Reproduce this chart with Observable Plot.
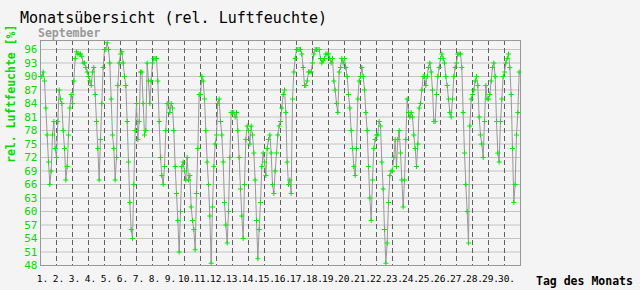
<!DOCTYPE html>
<html>
<head>
<meta charset="utf-8">
<script src="https://cdn.jsdelivr.net/npm/d3@7"></script>
<script src="https://cdn.jsdelivr.net/npm/@observablehq/plot@0.6"></script>
<style>
  html, body { margin: 0; padding: 0; background: #f4f4f4; }
  #chart { width: 640px; height: 290px; }
</style>
</head>
<body>
<div id="chart"></div>
<script>
// Sample hours within each day
const hours = [0, 2, 4, 6, 8, 10, 12, 14, 16, 18, 20, 22];
// Relative humidity [%], one row per day of September
const humidity = [
  [90, 90, 91, 89, 83, 77, 71, 66, 69, 77, 80, 74],      // 1
  [72, 80, 87, 85, 84, 78, 74, 67, 70, 77, 83, 86],      // 2
  [84, 89, 94, 95.5, 95, 95, 95, 94.5, 93, 93, 92, 91],  // 3
  [90, 89, 88, 91, 92, 86, 80, 74, 67, 76, 84, 92],      // 4
  [96, 96, 97.5, 96, 93, 85, 77, 74, 67, 72, 88, 93],    // 5
  [95, 95.5, 93, 90, 88, 80, 71, 62, 56, 54, 66, 78],    // 6
  [84, 76, 80, 91, 91, 84, 77, 78, 93, 89, 84, 89],      // 7
  [93, 94, 94, 94, 89, 80, 72, 68, 66, 70, 78, 84],      // 8
  [84, 82, 84, 83, 78, 70, 64, 58, 51, 60, 70, 71],      // 9
  [69, 67, 72, 67, 68, 61, 58, 56, 51.5, 64, 74, 86],    // 10
  [86, 90, 89, 85, 78, 71, 66, 59, 48.5, 61, 70, 75],    // 11
  [77, 84, 85, 80, 77, 71, 62, 57, 53, 60, 72, 82],      // 12
  [82, 82, 81, 82, 78, 72, 65, 59, 54, 66, 76, 79],      // 13
  [78, 75, 79, 77, 73, 67, 58, 49.5, 56, 62, 70, 73],    // 14
  [71, 68, 74, 76, 77, 73, 66, 64, 69, 73, 77, 79],      // 15
  [80, 83, 86, 87, 82, 71, 66, 67, 64, 85, 91, 94],      // 16
  [96, 96, 96, 96, 95, 92, 88, 88, 89, 91, 91, 91],      // 17
  [93, 95, 96, 96, 96, 96, 94, 93, 93.5, 94, 95, 95],    // 18
  [95, 94, 93, 94, 89, 87, 84, 82, 91, 92, 94, 93],      // 19
  [94, 92, 90, 86, 83, 78, 74, 70, 68, 74, 85, 89],      // 20
  [90, 92, 90, 87, 82, 78, 70, 63, 58, 67, 74, 76],      // 21
  [77, 77, 80, 79, 71, 65, 56, 48.5, 53, 62, 68, 69],    // 22
  [69, 72, 76, 70, 76, 78, 73, 67, 61, 67, 76, 85],      // 23
  [82, 81, 82, 81, 77, 74, 70, 75, 83, 84, 87, 90],      // 24
  [90, 88, 90, 92, 93, 91, 87, 80, 80, 86, 90, 92],      // 25
  [94, 95, 94, 93, 90, 88, 85, 82, 81, 85, 90, 92],      // 26
  [93, 95, 95, 95, 92, 82, 73, 66, 60, 53, 79, 85],      // 27
  [86, 87, 89, 90, 88, 81, 77, 75, 72, 80, 88, 85],      // 28
  [85, 86, 89, 92, 93, 90, 80, 73, 71, 80, 85, 90],      // 29
  [91, 93, 94, 95, 92, 86, 74, 62, 66, 77, 82, 91]       // 30
];
const dayLabels = ["1.","2.","3.","4.","5.","6.","7.","8.","9.","10.",
  "11.","12.","13.","14.","15.","16.","17.","18.","19.","20.",
  "21.","22.","23.","24.","25.","26.","27.","28.","29.","30."];
const yTicks = [48, 51, 54, 57, 60, 63, 66, 69, 72, 75, 78, 81, 84, 87, 90, 93, 96];

const rows = humidity.flatMap((vals, i) => vals.map((v, j) => ({t: i + hours[j] / 24, v})));
const dayIdx = dayLabels.map((_, i) => i);

const plusSymbol = {
  draw(context, size) {
    const r = Math.sqrt(size / Math.PI);
    context.moveTo(-r, 0); context.lineTo(r, 0);
    context.moveTo(0, -r); context.lineTo(0, r);
  }
};

const mono = "DejaVu Sans Mono, monospace";
const green = "#00dd00";

const svg = Plot.plot({
  width: 640,
  height: 290,
  marginLeft: 40,
  marginRight: 120,
  marginTop: 40,
  marginBottom: 25,
  style: {background: "#f4f4f4", fontFamily: mono},
  x: {domain: [0, 30], axis: null},
  y: {domain: [48, 98], axis: null},
  marks: [
    Plot.ruleY(yTicks.slice(1), {stroke: "#c4c4c4", strokeWidth: 1}),
    Plot.ruleX(dayIdx.slice(1), {stroke: "#606060", strokeDasharray: "5,3", strokeWidth: 1}),
    Plot.line(rows, {x: "t", y: "v", stroke: "#999999", strokeWidth: 1}),
    Plot.dot(rows, {x: "t", y: "v", symbol: plusSymbol, r: 2.5, stroke: "#00ee00", fill: "none", strokeWidth: 1}),
    Plot.frame({stroke: "#999999"}),
    Plot.text(yTicks, {x: 0, y: d => d, text: d => String(d), dx: -3, textAnchor: "end",
      fill: green, fontSize: 11, fontFamily: mono}),
    Plot.text(dayIdx, {x: d => d, y: 48, text: d => dayLabels[d], dy: 13, dx: 2,
      fill: "#000", fontSize: 9.5, fontFamily: mono, letterSpacing: -0.8})
  ]
});

const s = d3.select(svg);
s.append("text").attr("x", 20).attr("y", 23).attr("text-anchor", "start")
  .attr("font-family", mono).attr("font-size", 15).attr("fill", "#000")
  .text("Monatsübersicht (rel. Luftfeuchte)");
s.append("text").attr("x", 38).attr("y", 37).attr("text-anchor", "start")
  .attr("font-family", mono).attr("font-size", 11.5).attr("font-weight", "bold").attr("fill", "#9a9a9a")
  .text("September");
s.append("text").attr("transform", "translate(15,163) rotate(-90)").attr("text-anchor", "start")
  .attr("font-family", mono).attr("font-size", 11.5).attr("font-weight", "bold").attr("fill", green)
  .text("rel. Luftfeuchte [%]");
s.append("text").attr("x", 536).attr("y", 285).attr("text-anchor", "start")
  .attr("font-family", mono).attr("font-size", 11.5).attr("font-weight", "bold").attr("fill", "#000")
  .text("Tag des Monats");

document.getElementById("chart").appendChild(svg);
</script>
</body>
</html>
